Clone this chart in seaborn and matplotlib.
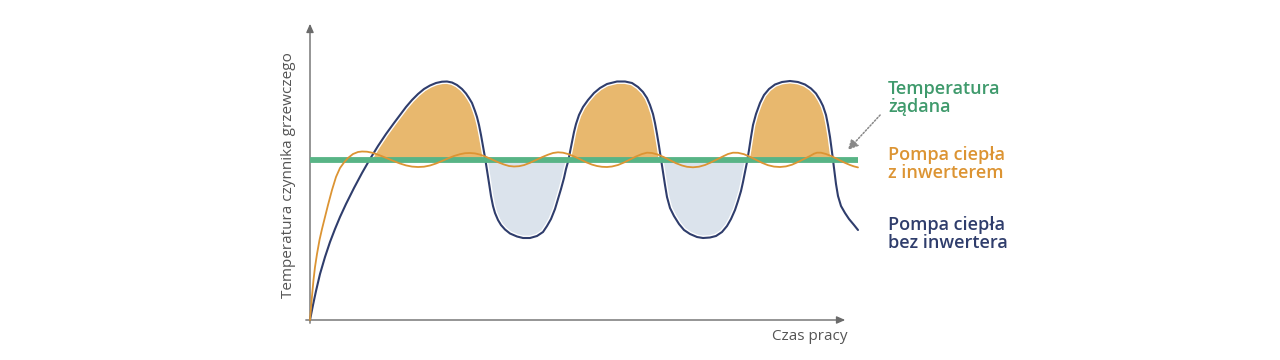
import numpy as np
import pandas as pd
import seaborn as sns
import matplotlib.pyplot as plt
import matplotlib.patheffects as pe

# time / temperature in arbitrary units
time_blue = [0, 3, 6, 10, 15, 20, 25, 30, 36, 44, 52, 60, 68, 76, 84, 90, 96, 102, 108, 114, 120,
             126, 132, 137, 142, 147, 152, 156, 159, 162, 165, 167, 169, 171, 173, 175, 177, 179,
             181, 183, 185, 188, 191, 195, 200, 207, 213, 220,
             227, 233, 237, 241, 245, 248, 251, 254, 256, 258.5, 260, 262, 264, 266, 269, 273,
             278, 284, 290, 297, 307, 315, 322, 328, 333, 337, 340, 343, 345, 347, 349, 351, 353,
             355, 357, 360, 364, 369, 374, 380, 387, 393, 400, 406, 412, 417, 421, 425, 428, 431,
             433, 435, 437, 439, 441, 443, 446, 450, 454, 459, 465, 472, 480, 488, 495, 501, 506,
             510, 513, 516, 518, 520, 522, 524, 526, 528, 531, 535, 539, 544, 548]
temp_blue = [0, 15, 29, 46, 63, 78, 91, 103, 116, 132, 147, 161, 174, 186, 197, 205, 213, 220, 226,
             231, 234.5, 237, 238.3, 238.5, 237.5, 235, 231, 226.5, 222, 217, 209, 203, 195, 185,
             174, 162.5, 150, 137, 124, 114, 107, 100, 95, 90.5, 86.5, 83.5, 82, 82,
             84, 88, 94, 101, 111, 121, 131, 142, 151, 160, 168, 178, 188, 196, 205, 213, 220, 227,
             232, 236, 238.5, 238.5, 237, 233, 228, 222, 215, 206, 197, 186, 174, 161, 148, 135,
             123, 112, 104, 96, 90, 86, 83, 82, 82.5, 84, 88, 94, 101, 110, 119, 129, 138, 148,
             158, 170, 183, 195, 206, 217, 225, 231, 235.5, 238, 239, 238, 235.5, 231.5, 226.5,
             220, 214, 205, 195, 183, 168, 152, 136, 124, 114, 107, 101, 95, 90]

time_orange = [0, 1, 2, 3.5, 5, 7, 9.5, 12, 15, 18, 22, 26, 30, 34, 38, 43, 48, 52, 57, 62, 67,
               72, 78, 84, 90, 96, 102, 108, 114, 120, 126, 132, 138, 144, 150, 155, 160, 165, 170,
               176, 182, 188, 194, 199, 204, 209, 214, 220, 226, 232, 238, 243, 248, 253, 258, 264,
               270, 276, 282, 287, 292, 297, 302, 308, 314, 320, 326, 332, 337, 342, 348, 354, 360,
               366, 372, 377, 383, 389, 395, 401, 407, 413, 418, 423, 428, 434, 440, 446, 452, 458,
               464, 470, 476, 482, 488, 494, 500, 504, 507, 511, 516, 522, 528, 534, 540, 544, 548]
temp_orange = [0, 12, 24, 40, 53, 66, 80, 91, 103, 115, 130, 143, 152, 157.5, 162, 166, 168, 168.5,
               168.3, 167.3, 165.7, 163.8, 161.3, 158.8, 156.5, 154.6, 153.4, 153, 153.3, 154.5,
               156.5, 159, 161.6, 164, 165.8, 166.8, 167, 166.6, 165.4, 163.2, 160.5, 157.8, 155.5,
               154, 153.5, 153.8, 154.9, 157.2, 160, 162.8, 165.3, 167, 167.7, 167.3, 166, 163.6,
               160.8, 157.8, 155.4, 154, 153.2, 153, 153.5, 155, 157.5, 160.5, 163.5, 166, 167.3,
               167, 165.4, 162.8, 159.8, 156.8, 154.5, 153.2, 152.7, 153.3, 155, 157.6, 160.6,
               163.6, 166, 167.3, 167.2, 165.8, 163.2, 160.2, 157.2, 154.8, 153.4, 153, 153.6,
               155.3, 158, 161, 164, 166.3, 167.3, 167.3, 166, 163.6, 160.6, 157.6, 155, 153.6, 152.6]

setpoint = 160.5
setpoint_span = [0, 548]
trough_window = [170, 445]  # only the two dips below the setpoint are shaded

y_label = "Temperatura czynnika grzewczego"
x_label = "Czas pracy"
series_labels = ["Temperatura\nżądana", "Pompa ciepła\nz inwerterem", "Pompa ciepła\nbez inwertera"]

navy = "#2f3d6c"
orange = "#dc9433"
green = "#58b486"
green_text = "#3f9a6c"
orange_fill = "#e8b86e"
blue_fill = "#dbe3ec"
axis_grey = "#6b6b6b"

sns.set_style("white")
plt.rcParams["font.family"] = ["Open Sans", "DejaVu Sans"]

df_blue = pd.DataFrame({"t": time_blue, "temp": temp_blue})
df_orange = pd.DataFrame({"t": time_orange, "temp": temp_orange})

fig = plt.figure(figsize=(12.8, 3.6), dpi=100)
ax = fig.add_axes([290 / 1280, 0, 760 / 1280, 1])
ax.set_xlim(-20, 740)
ax.set_ylim(-40, 320)
ax.axis("off")

tb = np.array(time_blue, dtype=float)
yb = np.array(temp_blue, dtype=float)
in_window = (tb >= trough_window[0]) & (tb <= trough_window[1])
ax.fill_between(tb, yb, setpoint, where=yb >= setpoint, interpolate=True,
                color=orange_fill, lw=0, zorder=1)
ax.fill_between(tb, yb, setpoint, where=(yb <= setpoint) & in_window, interpolate=True,
                color=blue_fill, lw=0, zorder=1)

sns.lineplot(data=df_blue, x="t", y="temp", sort=False, color=navy, lw=1.5, ax=ax, zorder=3,
             path_effects=[pe.Stroke(linewidth=3.5, foreground="white"), pe.Normal()])
ax.plot(setpoint_span, [setpoint, setpoint], color=green, lw=4.2, solid_capstyle="butt", zorder=4)
sns.lineplot(data=df_orange, x="t", y="temp", sort=False, color=orange, lw=1.3, ax=ax, zorder=5)

# axes with arrows
ax.annotate("", xy=(538, 0), xytext=(-7, 0),
            arrowprops=dict(arrowstyle="-|>,head_length=0.5,head_width=0.22", color=axis_grey, lw=1))
ax.annotate("", xy=(0, 299), xytext=(0, -6),
            arrowprops=dict(arrowstyle="-|>,head_length=0.5,head_width=0.22", color=axis_grey, lw=1))

ax.text(-22, 145, y_label, rotation=90, ha="center", va="center", fontsize=11, color="#555555")
ax.text(537, -17, x_label, ha="right", va="center", fontsize=11, color="#555555")

label_colors = [green_text, orange, navy]
label_y = [222, 156, 86]
for text, col, y in zip(series_labels, label_colors, label_y):
    ax.text(578, y, text, ha="left", va="center", fontsize=13, fontweight="semibold",
            color=col, linespacing=1.05)

ax.annotate("", xy=(536, 168), xytext=(572, 207),
            arrowprops=dict(arrowstyle="-|>,head_length=0.6,head_width=0.3", color="#888888",
                            lw=1.1, linestyle=(0, (1, 1.2))))

fig.savefig("out.png", dpi=100)
